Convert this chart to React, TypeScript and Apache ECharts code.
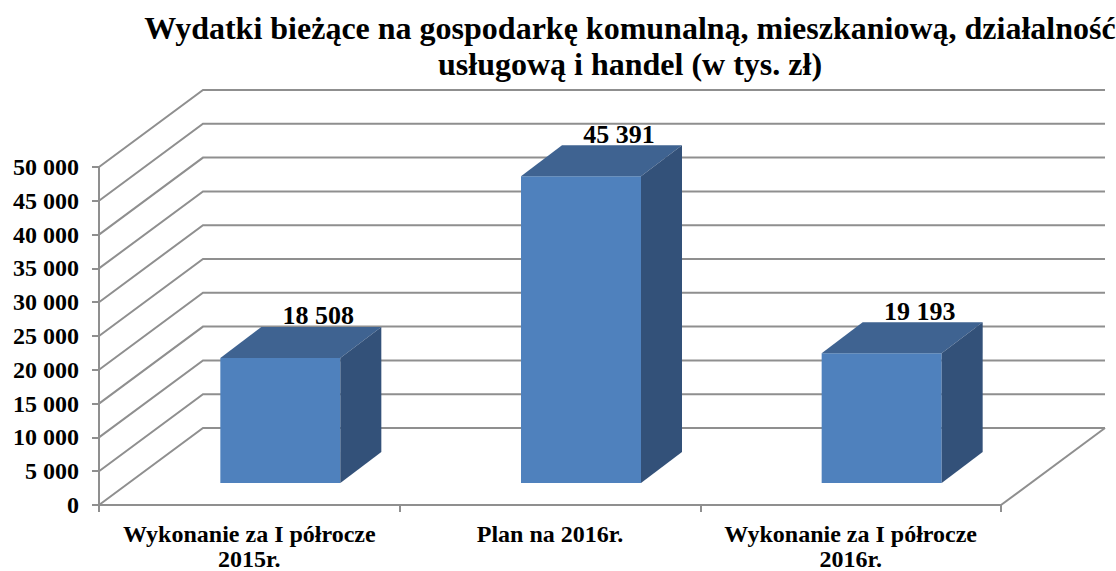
import React, { useEffect, useRef } from "react";
import * as echarts from "echarts";

const categories = ["Wykonanie za I półrocze\n2015r.", "Plan na 2016r.", "Wykonanie za I półrocze\n2016r."];
const values = [18508, 45391, 19193];
const valueLabels = ["18 508", "45 391", "19 193"];
const gridTicks = [0, 5000, 10000, 15000, 20000, 25000, 30000, 35000, 40000, 45000, 50000];
const titleText = "Wydatki bieżące na gospodarkę komunalną, mieszkaniową, działalność\nusługową i handel (w tys. zł)";

const FONT = '"Liberation Serif", "Times New Roman", serif';
const GRAY = "#8f8f8f";
const WALL_DX = 104;
const WALL_DY = 77;

const fmt = (v: number) => (v === 0 ? "0" : String(v).replace(/\B(?=(\d{3})+$)/g, " "));

export default function App() {
  const ref = useRef<HTMLDivElement>(null);
  useEffect(() => {
    document.body.style.margin = "0";
    const chart = echarts.init(ref.current!, null, { renderer: "svg" });
    chart.setOption({
      animation: false,
      backgroundColor: "#ffffff",
      title: {
        text: titleText,
        left: 625,
        top: 5,
        textAlign: "center",
        textStyle: { fontFamily: FONT, fontWeight: "bold", fontSize: 32, lineHeight: 36, color: "#000" },
      },
      grid: { left: 99, right: 115, top: 167, bottom: 66, outerBoundsMode: "none" },
      xAxis: {
        type: "category",
        data: categories,
        axisLine: { show: true, lineStyle: { color: GRAY, width: 2 } },
        axisTick: { show: true, length: 7, lineStyle: { color: GRAY, width: 2 } },
        axisLabel: {
          fontFamily: FONT,
          fontWeight: "bold",
          fontSize: 24,
          lineHeight: 25,
          color: "#000",
          margin: 16,
          interval: 0,
        },
      },
      yAxis: {
        type: "value",
        min: 0,
        max: 50000,
        interval: 5000,
        axisLine: { show: true, lineStyle: { color: GRAY, width: 2 } },
        axisTick: { show: true, length: 7, lineStyle: { color: GRAY, width: 2 } },
        splitLine: { show: false },
        axisLabel: {
          formatter: fmt,
          fontFamily: FONT,
          fontWeight: "bold",
          fontSize: 24,
          color: "#000",
          margin: 20,
        },
      },
      series: [
        {
          type: "custom",
          clip: false,
          silent: true,
          z: 1,
          data: gridTicks.map((v) => [0, v]),
          encode: { x: 0, y: 1 },
          renderItem: (params: any, api: any) => {
            const cs = params.coordSys;
            const v = api.value(1);
            const y = api.coord([0, v])[1];
            const x0 = cs.x;
            const x1 = cs.x + cs.width;
            const children: any[] = [
              {
                type: "polyline",
                shape: {
                  points: [
                    [x0, y],
                    [x0 + WALL_DX, y - WALL_DY],
                    [x1 + WALL_DX, y - WALL_DY],
                  ],
                },
                style: { stroke: GRAY, lineWidth: 2, fill: "none" },
              },
            ];
            if (v === 0) {
              children.push({
                type: "line",
                shape: { x1, y1: y, x2: x1 + WALL_DX, y2: y - WALL_DY },
                style: { stroke: GRAY, lineWidth: 2 },
              });
            }
            return { type: "group", children };
          },
        },
        {
          type: "custom",
          clip: false,
          silent: true,
          z: 3,
          data: values.map((v, i) => [i, v]),
          encode: { x: 0, y: 1 },
          renderItem: (params: any, api: any) => {
            const i = api.value(0);
            const v = api.value(1);
            const [cx, top] = api.coord([i, v]);
            const base = api.coord([i, 0])[1];
            const offX = 31;
            const offY = 22;
            const halfW = 60;
            const dx = 41;
            const dy = 31;
            const l = cx + offX - halfW;
            const r = cx + offX + halfW;
            const t = top - offY;
            const b = base - offY;
            return {
              type: "group",
              children: [
                {
                  type: "rect",
                  shape: { x: l, y: t, width: r - l, height: b - t },
                  style: { fill: "#4f81bd" },
                },
                {
                  type: "polygon",
                  shape: { points: [[l, t], [l + dx, t - dy], [r + dx, t - dy], [r, t]] },
                  style: { fill: "#3f6391" },
                },
                {
                  type: "polygon",
                  shape: { points: [[r, t], [r + dx, t - dy], [r + dx, b - dy], [r, b]] },
                  style: { fill: "#335179" },
                },
                {
                  type: "text",
                  x: cx + offX + 38,
                  y: t - dy + 2,
                  style: {
                    text: valueLabels[i],
                    fontFamily: FONT,
                    fontWeight: "bold",
                    fontSize: 26,
                    fill: "#000",
                    align: "center",
                    verticalAlign: "bottom",
                  },
                },
              ],
            };
          },
        },
      ],
    });
    return () => chart.dispose();
  }, []);
  return <div ref={ref} style={{ position: "fixed", left: 0, top: 0, width: 1116, height: 571 }} />;
}
